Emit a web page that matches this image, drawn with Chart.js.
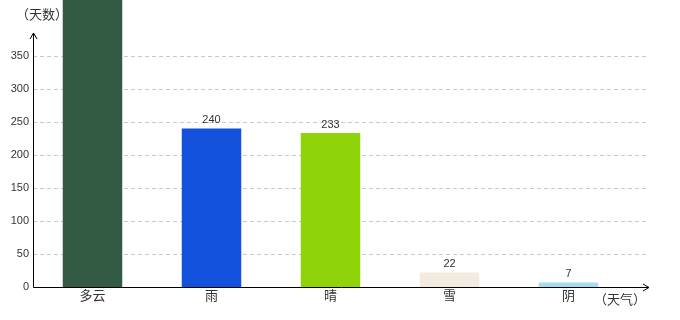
<!DOCTYPE html>
<html>
<head>
<meta charset="utf-8">
<script src="https://cdn.jsdelivr.net/npm/chart.js@4.4.0/dist/chart.umd.min.js"></script>
<style>
  html, body { margin: 0; padding: 0; background: #fff; }
  #wrap { width: 680px; height: 320px; }
</style>
</head>
<body>
<div id="wrap"><canvas id="chartTempo"></canvas></div>
<script>
// dados do gráfico
const categorias = ['多云', '雨', '晴', '雪', '阴'];
const dias = [470, 240, 233, 22, 7];
const cores = ['#335a42', '#1352dc', '#8fd408', '#f3ebdf', '#a8dbf0'];
const tituloY = '（天数）';
const tituloX = '（天气）';

const fonteCJK = '"Noto Sans CJK SC", "Noto Sans", sans-serif';
const fonteNum = '"Liberation Sans", Arial, sans-serif';

// desenha grade tracejada, eixos com seta e rótulos
const eixosPlugin = {
    id: 'eixos',
    beforeDatasetsDraw(chart) {
        const { ctx, chartArea, scales } = chart;
        ctx.save();
        ctx.strokeStyle = '#c8c8c8';
        ctx.lineWidth = 1;
        ctx.setLineDash([4, 3]);
        scales.y.ticks.forEach(t => {
            if (t.value === 0) return;
            const y = Math.round(scales.y.getPixelForValue(t.value)) + 0.5;
            ctx.beginPath();
            ctx.moveTo(chartArea.left, y);
            ctx.lineTo(chartArea.right + 19, y);
            ctx.stroke();
        });
        ctx.restore();
    },
    afterDatasetsDraw(chart) {
        const { ctx, chartArea, scales } = chart;
        const x0 = Math.round(chartArea.left) + 0.5;
        const y0 = Math.round(scales.y.getPixelForValue(0)) + 0.5;
        ctx.save();
        ctx.strokeStyle = '#000';
        ctx.lineWidth = 1;
        // eixo y com seta
        ctx.beginPath();
        ctx.moveTo(x0, y0);
        ctx.lineTo(x0, 33);
        ctx.moveTo(x0 - 3.5, 39);
        ctx.lineTo(x0, 33);
        ctx.lineTo(x0 + 3.5, 39);
        ctx.stroke();
        // eixo x com seta
        const xFim = chartArea.right + 21;
        ctx.beginPath();
        ctx.moveTo(x0, y0);
        ctx.lineTo(xFim, y0);
        ctx.moveTo(xFim - 6, y0 - 3.5);
        ctx.lineTo(xFim, y0);
        ctx.lineTo(xFim - 6, y0 + 3.5);
        ctx.stroke();

        // valores acima das barras
        const meta = chart.getDatasetMeta(0);
        ctx.fillStyle = '#333';
        ctx.font = '11px ' + fonteNum;
        ctx.textAlign = 'center';
        ctx.textBaseline = 'bottom';
        meta.data.forEach((bar, i) => {
            ctx.fillText(String(dias[i]), bar.x, bar.y - 3);
        });

        // títulos dos eixos
        ctx.font = '13px ' + fonteCJK;
        ctx.fillStyle = '#333';
        ctx.textBaseline = 'middle';
        ctx.textAlign = 'left';
        ctx.fillText(tituloY, 16, 14);
        ctx.fillText(tituloX, 594, 299);
        ctx.restore();
    }
};

function renderChart() {
    const ctx = document.getElementById('chartTempo').getContext('2d');
    new Chart(ctx, {
        type: 'bar',
        data: {
            labels: categorias,
            datasets: [{
                data: dias,
                backgroundColor: cores,
                barPercentage: 0.5,
                categoryPercentage: 1,
                clip: false
            }]
        },
        options: {
            responsive: true,
            maintainAspectRatio: false,
            animation: false,
            events: [],
            layout: { padding: { top: 36, right: 52, bottom: 0, left: 0 } },
            plugins: { legend: { display: false }, tooltip: { enabled: false } },
            scales: {
                x: {
                    grid: { display: false, drawTicks: false },
                    border: { display: false },
                    ticks: {
                        color: '#333',
                        font: { size: 13, family: fonteCJK },
                        padding: 0
                    },
                    afterFit(scale) { scale.height = 33; }
                },
                y: {
                    min: 0,
                    max: 380,
                    grid: { display: false, drawTicks: false },
                    border: { display: false },
                    ticks: {
                        stepSize: 50,
                        color: '#333',
                        font: { size: 11, family: fonteNum },
                        padding: 4
                    },
                    afterBuildTicks(scale) {
                        scale.ticks = scale.ticks.filter(t => t.value % 50 === 0);
                    },
                    afterFit(scale) { scale.width = 33; }
                }
            }
        },
        plugins: [eixosPlugin]
    });
}

window.onload = renderChart;
</script>
</body>
</html>
